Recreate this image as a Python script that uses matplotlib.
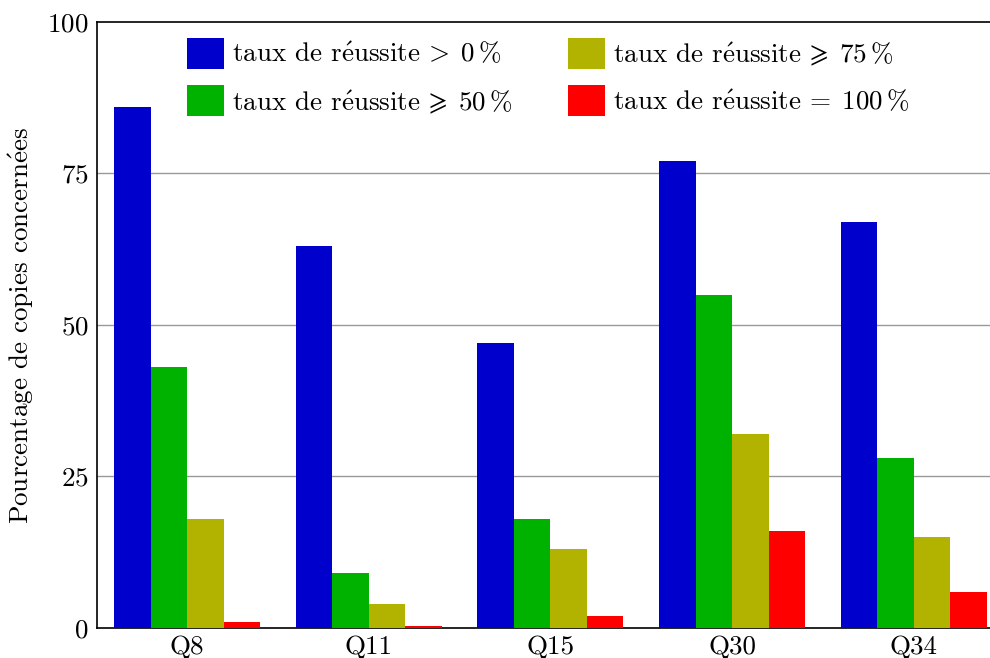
import matplotlib
matplotlib.use('Agg')
import matplotlib.pyplot as plt
import numpy as np

plt.rcParams['font.family'] = ['cmr10', 'DejaVu Serif']
plt.rcParams['mathtext.fontset'] = 'cm'
plt.rcParams['axes.formatter.use_mathtext'] = True
plt.rcParams['font.size'] = 19.5

questions = ['Q8', 'Q11', 'Q15', 'Q30', 'Q34']
taux_sup0 = [86, 63, 47, 77, 67]
taux_sup50 = [43, 9, 18, 55, 28]
taux_sup75 = [18, 4, 13, 32, 15]
taux_100 = [1, 0.3, 2, 16, 6]

reussite = r'taux de r$\mathrm{\acute{e}}$ussite'
series = [
    (taux_sup0, '#0000CC', reussite + r'$\,>\;0\,\%$'),
    (taux_sup50, '#00B200', reussite + r'$\,\geqslant\;50\,\%$'),
    (taux_sup75, '#B2B200', reussite + r'$\,\geqslant\;75\,\%$'),
    (taux_100, '#FF0000', reussite + r'$\,=\;100\,\%$'),
]

fig = plt.figure(figsize=(9.9, 6.58), dpi=100)
ax = fig.add_axes([0.098, 0.0456, 0.902, 0.921])

x = np.arange(len(questions))
w = 0.201
handles = []
for i, (vals, col, lab) in enumerate(series):
    b = ax.bar(x + (i - 1.5) * w, vals, w, color=col, label=lab, zorder=3)
    handles.append(b)

ax.set_xlim(-0.496, 4.42)
ax.set_ylim(0, 100)
ax.set_yticks([0, 25, 50, 75, 100])
ax.set_xticks(x)
ax.set_xticklabels(questions)
ax.tick_params(axis='x', length=0, pad=5)
ax.tick_params(axis='y', length=0, pad=6)
for yv in [25, 50, 75]:
    ax.axhline(yv, color='#999999', lw=1.0, zorder=1)
ax.spines['right'].set_visible(False)
for s in ['left', 'top', 'bottom']:
    ax.spines[s].set_linewidth(1.2)
ax.set_ylabel(r'Pourcentage de copies concern$\mathrm{\acute{e}}$es', labelpad=8)

ax.legend(handles=handles, ncol=2, loc='upper center', bbox_to_anchor=(0.505, 0.996),
          frameon=False, handlelength=1.37, handleheight=1.37, handletextpad=0.3,
          columnspacing=2.05, labelspacing=0.62, borderaxespad=0.1)

fig.savefig('out.png', dpi=100)
